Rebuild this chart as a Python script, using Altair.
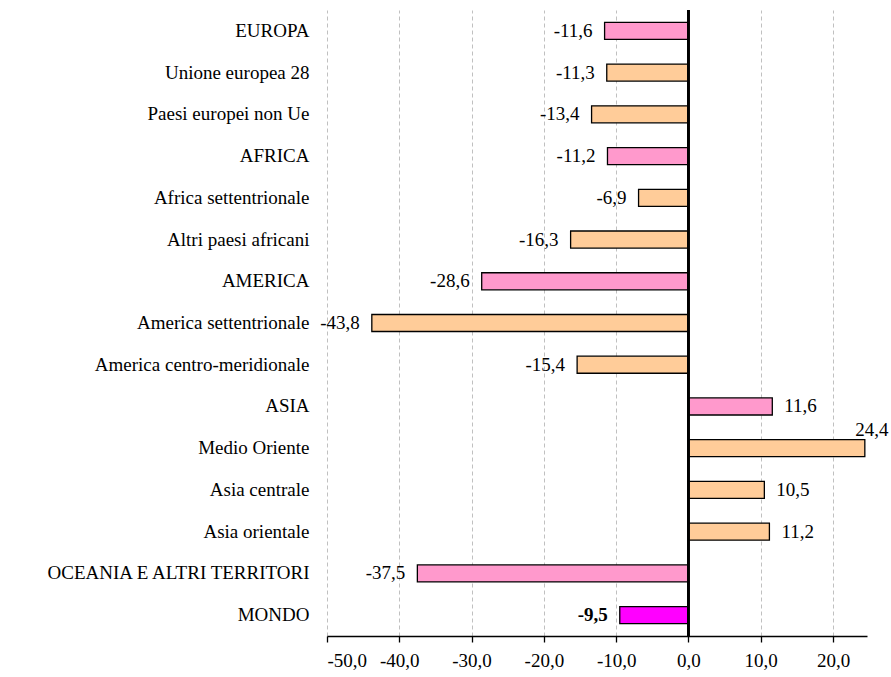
import altair as alt
import pandas as pd

categories = [
    "EUROPA", "Unione europea 28", "Paesi europei non Ue",
    "AFRICA", "Africa settentrionale", "Altri paesi africani",
    "AMERICA", "America settentrionale", "America centro-meridionale",
    "ASIA", "Medio Oriente", "Asia centrale", "Asia orientale",
    "OCEANIA E ALTRI TERRITORI", "MONDO",
]
values = [-11.6, -11.3, -13.4, -11.2, -6.9, -16.3, -28.6, -43.8, -15.4,
          11.6, 24.4, 10.5, 11.2, -37.5, -9.5]
groups = ["macro", "sub", "sub", "macro", "sub", "sub", "macro", "sub", "sub",
          "macro", "sub", "sub", "sub", "macro", "totale"]
tick_values = [-50, -40, -30, -20, -10, 0, 10, 20]

df = pd.DataFrame({"categoria": categories, "valore": values, "gruppo": groups})

FONT = "'Liberation Serif', 'Times New Roman', Times, 'DejaVu Serif', serif"
FS = 19

x_scale = alt.Scale(domain=[-50, 24.7], nice=False, zero=False)
y_enc = alt.Y("categoria:N", sort=categories,
              scale=alt.Scale(paddingInner=0.592, paddingOuter=0.296),
              axis=alt.Axis(title=None, domain=False, ticks=False, grid=False,
                            labelPadding=18, labelFont=FONT, labelFontSize=FS,
                            labelColor="black", labelLimit=400))

base = alt.Chart(df).transform_calculate(
    etichetta="(datum.valore < 0 ? '-' : '') + replace(format(abs(datum.valore), '.1f'), '.', ',')"
)

bars = base.mark_bar(stroke="black", strokeWidth=1.3).encode(
    x=alt.X("valore:Q", scale=x_scale,
            axis=alt.Axis(title=None, values=tick_values, grid=True,
                          gridDash=[4, 3], gridColor="#C0C0C0", gridWidth=1,
                          domainColor="black", domainWidth=1.3,
                          tickColor="black", tickSize=6, tickWidth=1.3,
                          labelFont=FONT, labelFontSize=FS, labelColor="black",
                          labelPadding=9,
                          labelExpr="(datum.value < 0 ? '-' : '') + replace(format(abs(datum.value), '.1f'), '.', ',')")),
    y=y_enc,
    color=alt.Color("gruppo:N",
                    scale=alt.Scale(domain=["macro", "sub", "totale"],
                                    range=["#FF99CC", "#FFCC99", "#FF00FF"]),
                    legend=None),
)

zero_rule = base.mark_rule(color="black", strokeWidth=1.5).encode(x=alt.datum(0))

neg_labels = base.transform_filter(
    "datum.valore < 0 && datum.gruppo != 'totale'"
).mark_text(align="right", baseline="middle", dx=-12, font=FONT, fontSize=FS,
            color="black").encode(
    x=alt.X("valore:Q", scale=x_scale), y=y_enc, text="etichetta:N")

tot_labels = base.transform_filter(
    "datum.gruppo == 'totale'"
).mark_text(align="right", baseline="middle", dx=-12, font=FONT, fontSize=FS,
            fontWeight="bold", color="black").encode(
    x=alt.X("valore:Q", scale=x_scale), y=y_enc, text="etichetta:N")

pos_labels = base.transform_filter(
    "datum.valore > 0 && datum.valore < 20"
).mark_text(align="left", baseline="middle", dx=12, font=FONT, fontSize=FS,
            color="black").encode(
    x=alt.X("valore:Q", scale=x_scale), y=y_enc, text="etichetta:N")

top_labels = base.transform_filter(
    "datum.valore >= 20"
).mark_text(align="center", baseline="bottom", dx=7, dy=-8, font=FONT,
            fontSize=FS, color="black").encode(
    x=alt.X("valore:Q", scale=x_scale), y=y_enc, text="etichetta:N")

chart = alt.layer(bars, zero_rule, neg_labels, tot_labels, pos_labels, top_labels).properties(
    width=540, height=626,
    padding={"left": 327, "top": 10, "right": 24, "bottom": 41},
    autosize=alt.AutoSizeParams(type="none"),
    background="white",
).configure_view(stroke=None)

chart.save("out.html", embed_options={"renderer": "svg", "actions": False})
